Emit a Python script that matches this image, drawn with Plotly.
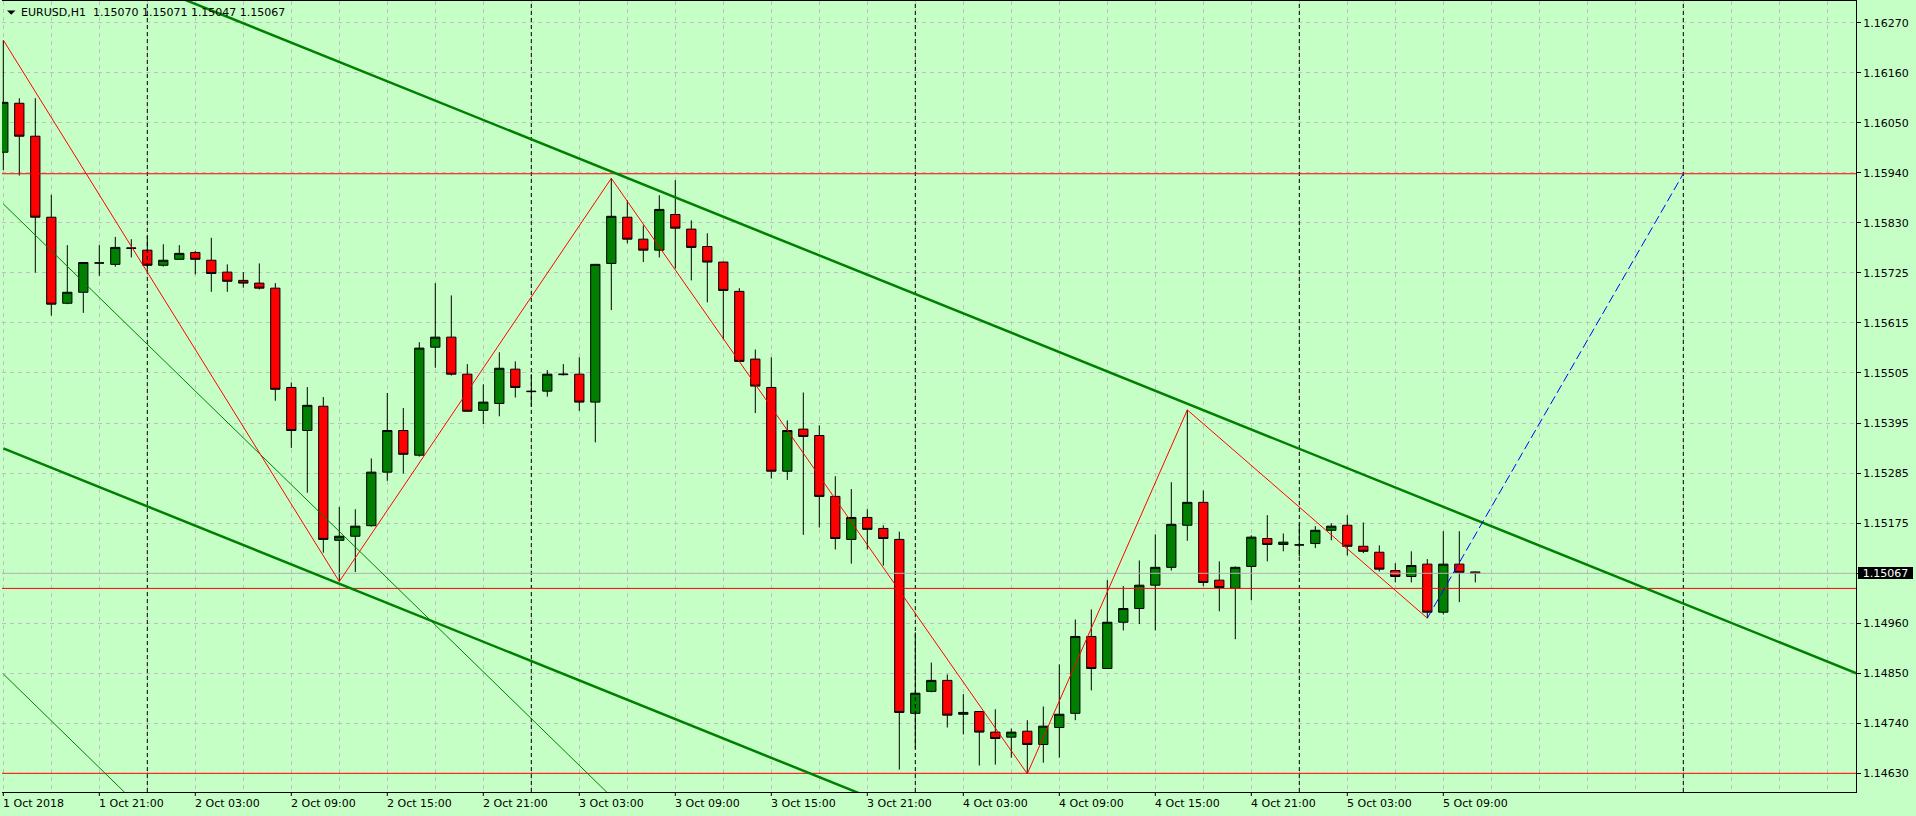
import plotly.graph_objects as go

# ---------------- data (EURUSD, H1, 1 Oct 2018 15:00 -> 5 Oct 2018 11:00) ----------------
bar_index = list(range(93))

opens = [1.15987, 1.16094, 1.16022, 1.15845, 1.15657, 1.15681, 1.15745, 1.15742, 1.15778, 1.15773,
         1.15740, 1.15753, 1.15768, 1.15751, 1.15725, 1.15707, 1.15701, 1.15690, 1.15473, 1.15379,
         1.15432, 1.15139, 1.15148, 1.15171, 1.15288, 1.15379, 1.15325, 1.15561, 1.15583, 1.15502,
         1.15423, 1.15438, 1.15513, 1.15465, 1.15465, 1.15501, 1.15502, 1.15441, 1.15744, 1.15845,
         1.15797, 1.15773, 1.15851, 1.15819, 1.15781, 1.15747, 1.15683, 1.15535, 1.15473, 1.15290,
         1.15382, 1.15368, 1.15235, 1.15141, 1.15189, 1.15165, 1.15141, 1.14761, 1.14809, 1.14833,
         1.14759, 1.14765, 1.14720, 1.14709, 1.14722, 1.14693, 1.14730, 1.14761, 1.14929, 1.14859,
         1.14960, 1.14990, 1.15041, 1.15080, 1.15172, 1.15222, 1.15052, 1.15034, 1.15082, 1.15143,
         1.15130, 1.15129, 1.15132, 1.15161, 1.15172, 1.15126, 1.15113, 1.15073, 1.15060, 1.15087,
         1.14982, 1.15087, 1.15070]
highs = [1.16232, 1.16105, 1.16105, 1.15894, 1.15784, 1.15747, 1.15784, 1.15802, 1.15797, 1.15804,
         1.15786, 1.15784, 1.15771, 1.15800, 1.15742, 1.15725, 1.15744, 1.15701, 1.15484, 1.15474,
         1.15452, 1.15212, 1.15207, 1.15318, 1.15461, 1.15428, 1.15572, 1.15701, 1.15674, 1.15524,
         1.15480, 1.15550, 1.15530, 1.15502, 1.15511, 1.15524, 1.15539, 1.15743, 1.15930, 1.15882,
         1.15827, 1.15893, 1.15926, 1.15838, 1.15810, 1.15748, 1.15690, 1.15556, 1.15539, 1.15401,
         1.15462, 1.15390, 1.15279, 1.15251, 1.15207, 1.15172, 1.15158, 1.14938, 1.14872, 1.14846,
         1.14803, 1.14766, 1.14770, 1.14728, 1.14746, 1.14776, 1.14868, 1.14966, 1.14988, 1.15052,
         1.15039, 1.15095, 1.15152, 1.15266, 1.15424, 1.15248, 1.15093, 1.15082, 1.15150, 1.15194,
         1.15154, 1.15174, 1.15170, 1.15176, 1.15194, 1.15178, 1.15128, 1.15089, 1.15115, 1.15098,
         1.15159, 1.15159, 1.15071]
lows = [1.15948, 1.15936, 1.15724, 1.15630, 1.15655, 1.15636, 1.15717, 1.15737, 1.15757, 1.15730,
        1.15737, 1.15753, 1.15720, 1.15682, 1.15682, 1.15691, 1.15687, 1.15444, 1.15341, 1.15243,
        1.15112, 1.15049, 1.15070, 1.15169, 1.15269, 1.15285, 1.15322, 1.15516, 1.15499, 1.15420,
        1.15393, 1.15410, 1.15451, 1.15432, 1.15453, 1.15499, 1.15422, 1.15353, 1.15642, 1.15788,
        1.15747, 1.15757, 1.15733, 1.15707, 1.15659, 1.15578, 1.15529, 1.15417, 1.15274, 1.15271,
        1.15151, 1.15167, 1.15119, 1.15088, 1.15119, 1.15084, 1.14638, 1.14684, 1.14807, 1.14730,
        1.14715, 1.14647, 1.14649, 1.14664, 1.14629, 1.14653, 1.14664, 1.14746, 1.14811, 1.14858,
        1.14942, 1.14956, 1.14942, 1.15073, 1.15138, 1.15039, 1.14984, 1.14923, 1.15008, 1.15093,
        1.15115, 1.15104, 1.15122, 1.15139, 1.15106, 1.15111, 1.15071, 1.15047, 1.15047, 1.14969,
        1.14977, 1.15004, 1.15047]
closes = [1.16096, 1.16022, 1.15845, 1.15655, 1.15681, 1.15746, 1.15745, 1.15779, 1.15777, 1.15740,
          1.15751, 1.15766, 1.15753, 1.15722, 1.15705, 1.15701, 1.15690, 1.15469, 1.15379, 1.15434,
          1.15141, 1.15148, 1.15170, 1.15288, 1.15379, 1.15327, 1.15559, 1.15583, 1.15502, 1.15421,
          1.15441, 1.15515, 1.15473, 1.15464, 1.15502, 1.15502, 1.15441, 1.15742, 1.15847, 1.15797,
          1.15773, 1.15862, 1.15821, 1.15779, 1.15747, 1.15685, 1.15530, 1.15476, 1.15290, 1.15379,
          1.15366, 1.15235, 1.15143, 1.15189, 1.15163, 1.15143, 1.14763, 1.14805, 1.14833, 1.14757,
          1.14763, 1.14720, 1.14706, 1.14720, 1.14693, 1.14733, 1.14759, 1.14929, 1.14859, 1.14960,
          1.14990, 1.15041, 1.15080, 1.15174, 1.15222, 1.15047, 1.15036, 1.15080, 1.15146, 1.15130,
          1.15135, 1.15129, 1.15161, 1.15170, 1.15126, 1.15115, 1.15076, 1.15060, 1.15084, 1.14982,
          1.15087, 1.15069, 1.15067]

x_tick_bars = [0, 6, 12, 18, 24, 30, 36, 42, 48, 54, 60, 66, 72, 78, 84, 90]
x_tick_labels = ["1 Oct 2018", "1 Oct 21:00", "2 Oct 03:00", "2 Oct 09:00", "2 Oct 15:00",
                 "2 Oct 21:00", "3 Oct 03:00", "3 Oct 09:00", "3 Oct 15:00", "3 Oct 21:00",
                 "4 Oct 03:00", "4 Oct 09:00", "4 Oct 15:00", "4 Oct 21:00", "5 Oct 03:00",
                 "5 Oct 09:00"]
y_tick_labels = ["1.16270", "1.16160", "1.16050", "1.15940", "1.15830", "1.15725", "1.15615",
                 "1.15505", "1.15395", "1.15285", "1.15175", "", "1.14960", "1.14850",
                 "1.14740", "1.14630"]
y_grid_top, y_grid_bottom = 1.16270, 1.14630

separator_bars = [9, 33, 57, 81, 105]          # midnight period separators
red_levels = [1.15940, 1.15034, 1.14630]

zigzag_bars = [0, 21, 38, 64, 74, 89]
zigzag_prices = [1.16232, 1.15049, 1.15930, 1.14629, 1.15424, 1.14969]
projection_bars = [89, 105]
projection_prices = [1.14969, 1.15940]

channel_upper_bars, channel_upper_prices = [0, 116], [1.16480, 1.14846]
channel_lower_bars, channel_lower_prices = [0, 116], [1.15340, 1.13706]
thin_a_bars, thin_a_prices = [0, 40], [1.15874, 1.14511]
thin_b_bars, thin_b_prices = [0, 10], [1.14847, 1.14506]

last_price = 1.15067
header_text = "EURUSD,H1\u00a0\u00a01.15070 1.15071 1.15047 1.15067"

# ---------------- layout geometry ----------------
W, H = 1916, 816
ML, MR, MT, MB = 2, 60, 1, 24
PW, PH = W - ML - MR, H - MT - MB
BAR_PX = 16.0
X0_PX = 3.3                       # centre of bar 0 in page pixels
x_lo = (ML - X0_PX) / BAR_PX
x_hi = (ML + PW - X0_PX) / BAR_PX
PRICE_PER_PX = (y_grid_top - y_grid_bottom) / (773.3 - 22.7)
y_hi = y_grid_top + (22.7 - MT) * PRICE_PER_PX
y_lo = y_grid_top - (MT + PH - 22.7) * PRICE_PER_PX


def px2x(px):
    return (px - ML) / PW


def py2y(py):
    return (MT + PH - py) / PH


BG = "#C6FFC6"
GRID = "#C0C0C0"
FONT = "DejaVu Sans"

fig = go.Figure()

# period separators (behind candles)
sx, sy = [], []
for b in separator_bars:
    sx += [b, b, None]
    sy += [y_lo - 1, y_hi + 1, None]
fig.add_trace(go.Scatter(x=sx, y=sy, mode="lines", line=dict(color="black", width=1, dash="4px,3px"),
                         hoverinfo="skip", showlegend=False))
# last price line
fig.add_trace(go.Scatter(x=[x_lo - 1, x_hi + 1], y=[last_price, last_price], mode="lines",
                         line=dict(color="#B4B4B4", width=1), hoverinfo="skip", showlegend=False))

fig.add_trace(go.Candlestick(
    x=bar_index, open=opens, high=highs, low=lows, close=closes,
    increasing=dict(line=dict(color="black", width=1), fillcolor="#008000"),
    decreasing=dict(line=dict(color="black", width=1), fillcolor="#FF0000"),
    whiskerwidth=0, showlegend=False, hoverinfo="skip"))

# horizontal red levels
for lv in red_levels:
    fig.add_trace(go.Scatter(x=[x_lo - 1, x_hi + 1], y=[lv, lv], mode="lines",
                             line=dict(color="#FF0000", width=1), hoverinfo="skip", showlegend=False))

# thin channel
for bx, by in [(thin_a_bars, thin_a_prices), (thin_b_bars, thin_b_prices)]:
    fig.add_trace(go.Scatter(x=bx, y=by, mode="lines", line=dict(color="#008000", width=1),
                             hoverinfo="skip", showlegend=False))
# thick channel
for bx, by in [(channel_upper_bars, channel_upper_prices), (channel_lower_bars, channel_lower_prices)]:
    fig.add_trace(go.Scatter(x=bx, y=by, mode="lines", line=dict(color="#008000", width=2.5),
                             hoverinfo="skip", showlegend=False))
# zigzag
fig.add_trace(go.Scatter(x=zigzag_bars, y=zigzag_prices, mode="lines",
                         line=dict(color="#FF0000", width=1), hoverinfo="skip", showlegend=False))
# projection
fig.add_trace(go.Scatter(x=projection_bars, y=projection_prices, mode="lines",
                         line=dict(color="#0000FF", width=1, dash="9px,4px"),
                         hoverinfo="skip", showlegend=False))

step = (y_grid_top - y_grid_bottom) / (len(y_tick_labels) - 1)
y_tick_vals = [y_grid_top - k * step for k in range(len(y_tick_labels))]

fig.update_layout(
    width=W, height=H,
    margin=dict(l=ML, r=MR, t=MT, b=MB, pad=0, autoexpand=False),
    paper_bgcolor=BG, plot_bgcolor=BG,
    font=dict(family=FONT, size=11, color="black"),
    hovermode=False, showlegend=False,
    boxgap=0.42, boxgroupgap=0, boxmode="overlay",
    xaxis=dict(range=[x_lo, x_hi], tickmode="linear", tick0=0, dtick=3, showticklabels=False,
               ticks="", showgrid=True, gridcolor=GRID, griddash="4px,4px", gridwidth=1,
               zeroline=False, showline=True, linecolor="black", linewidth=1, mirror=True,
               automargin=False, rangeslider=dict(visible=False), fixedrange=True),
    yaxis=dict(range=[y_lo, y_hi], side="right", tickmode="array", tickvals=y_tick_vals,
               ticktext=y_tick_labels, ticks="outside", ticklen=4, tickcolor="black",
               showgrid=True, gridcolor=GRID, griddash="4px,4px", gridwidth=1, automargin=False,
               zeroline=False, showline=True, linecolor="black", linewidth=1,
               tickfont=dict(family=FONT, size=11, color="black"), fixedrange=True),
)

shapes = []
annotations = []
for b, lab in zip(x_tick_bars, x_tick_labels):
    shapes.append(dict(type="line", xref="x", yref="paper", x0=b, x1=b, y0=0, y1=-4 / PH,
                       line=dict(color="black", width=1)))
    annotations.append(dict(x=b, xref="x", y=py2y(803.5), yref="paper", text=lab, showarrow=False,
                            xanchor="left", yanchor="middle", xshift=-2,
                            font=dict(family=FONT, size=11, color="black")))

# header triangle + text
shapes.append(dict(type="path", xref="paper", yref="paper",
                   path="M {} {} L {} {} L {} {} Z".format(px2x(7), py2y(10.5), px2x(15.5), py2y(10.5),
                                                          px2x(11.25), py2y(14.7)),
                   fillcolor="black", line=dict(color="black", width=0)))
annotations.append(dict(x=px2x(19), xref="paper", y=py2y(12.5), yref="paper", text=header_text,
                        showarrow=False, xanchor="left", yanchor="middle",
                        font=dict(family=FONT, size=11, color="black")))
# current price label
annotations.append(dict(x=px2x(1858), xref="paper", y=last_price, yref="y", text="1.15067",
                        showarrow=False, xanchor="left", yanchor="middle", bgcolor="black",
                        borderpad=0, borderwidth=0, width=55, height=12, align="center",
                        font=dict(family=FONT, size=11, color="white")))

fig.update_layout(shapes=shapes, annotations=annotations)
fig.write_html("out.html", config={"displayModeBar": False, "staticPlot": True},
               post_script="document.body.style.margin='0px';document.body.style.overflow='hidden';")
